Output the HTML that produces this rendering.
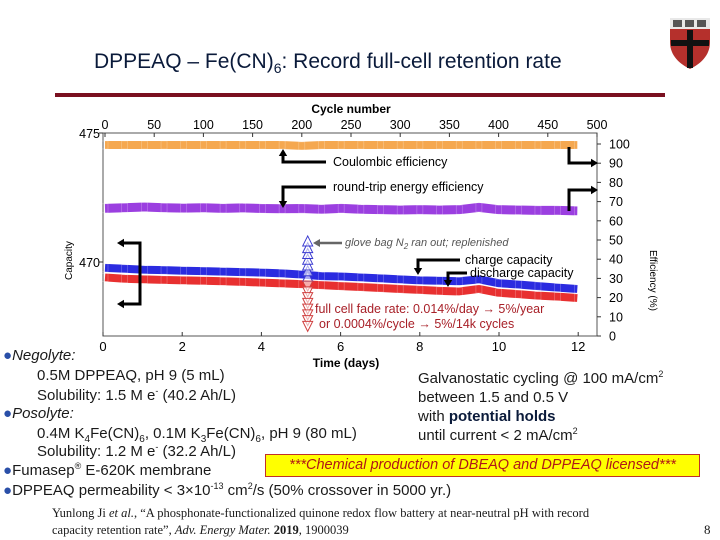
<!DOCTYPE html>
<html><head><meta charset="utf-8">
<style>
body{margin:0;width:720px;height:540px;background:#fff;overflow:hidden;font-family:"Liberation Sans",sans-serif;position:relative}
.t{position:absolute;white-space:nowrap;color:#1a1a1a}
.b{color:#2a4fa8}
sup,sub{line-height:0}
</style></head>
<body>
<div class="t" style="left:94px;top:50px;font-size:21px;color:#0a1a3a">DPPEAQ – Fe(CN)<sub style="font-size:14px">6</sub>: Record full-cell retention rate</div>
<div style="position:absolute;left:55px;top:93px;width:610px;height:4px;background:#7a1020"></div>
<svg style="position:absolute;left:668px;top:16px" width="44" height="54" viewBox="0 0 44 54">
<path d="M2 2H42V26C42 40 32 48 22 53C12 48 2 40 2 26Z" fill="#b5302c"/>
<rect x="2" y="2" width="40" height="11" fill="#e8e8e8"/>
<rect x="5" y="4" width="9" height="7" fill="#555"/><rect x="17" y="4" width="9" height="7" fill="#555"/><rect x="29" y="4" width="9" height="7" fill="#555"/>
<rect x="19" y="14" width="6" height="38" fill="#111"/><rect x="3" y="24" width="38" height="6" fill="#111"/>
</svg>

<svg id="chart" style="position:absolute;left:0;top:0" width="720" height="540"></svg>

<div class="t" style="left:3px;top:347px;font-size:15px"><span class="b">●</span><i>Negolyte:</i></div>
<div class="t" style="left:37px;top:367px;font-size:15px">0.5M DPPEAQ, pH 9 (5 mL)</div>
<div class="t" style="left:37px;top:387px;font-size:15px">Solubility: 1.5 M e<sup style="font-size:9px">-</sup> (40.2 Ah/L)</div>
<div class="t" style="left:3px;top:405px;font-size:15px"><span class="b">●</span><i>Posolyte:</i></div>
<div class="t" style="left:37px;top:425px;font-size:15px">0.4M K<sub style="font-size:10px">4</sub>Fe(CN)<sub style="font-size:10px">6</sub>, 0.1M K<sub style="font-size:10px">3</sub>Fe(CN)<sub style="font-size:10px">6</sub>, pH 9 (80 mL)</div>
<div class="t" style="left:37px;top:443px;font-size:15px">Solubility: 1.2 M e<sup style="font-size:9px">-</sup> (32.2 Ah/L)</div>
<div class="t" style="left:3px;top:462px;font-size:15px"><span class="b">●</span>Fumasep<sup style="font-size:9px">®</sup> E-620K membrane</div>
<div class="t" style="left:3px;top:482px;font-size:15px"><span class="b">●</span>DPPEAQ permeability &lt; 3×10<sup style="font-size:9px">-13</sup> cm<sup style="font-size:9px">2</sup>/s (50% crossover in 5000 yr.)</div>
<div class="t" style="left:418px;top:369px;font-size:15px;line-height:19px">Galvanostatic cycling @ 100 mA/cm<sup style="font-size:9px">2</sup><br>between 1.5 and 0.5 V<br>with <b style="color:#0a1a3a">potential holds</b><br>until current &lt; 2 mA/cm<sup style="font-size:9px">2</sup></div>
<div class="t" style="left:265px;top:454px;width:433px;height:21px;background:#ffff00;border:1px solid #c0302a;color:#b01818;font-size:14.5px;font-style:italic;text-align:center;line-height:21px">***Chemical production of DBEAQ and DPPEAQ licensed***</div>
<div class="t" style="left:52px;top:505px;font-size:12.5px;font-family:'Liberation Serif',serif;line-height:17px">Yunlong Ji <i>et al.</i>, “A phosphonate-functionalized quinone redox flow battery at near-neutral pH with record<br>capacity retention rate”, <i>Adv. Energy Mater.</i> <b>2019</b>, 1900039</div>
<div class="t" style="left:704px;top:522px;font-size:13px;font-family:'Liberation Serif',serif">8</div>

<script>
const cycles    = [0,20,40,60,80,100,120,140,160,180,200,220,240,260,280,300,320,340,360,380,400,420,440,460,480];
const ceVals    = [99.5,99.5,99.5,99.5,99.5,99.5,99.5,99.5,99.5,99.5,99.0,99.5,99.5,99.5,99.5,99.5,99.5,99.5,99.5,99.5,99.5,99.5,99.5,99.5,99.5];
const eeVals    = [66.5,66.8,67.2,66.8,66.6,66.8,66.5,66.7,66.4,66.3,66.4,66.0,66.5,66.0,65.8,65.6,65.8,65.6,65.8,67.0,65.8,65.6,65.4,65.4,65.2];
const chargeVals= [35.5,35.0,34.5,34.3,34.0,33.8,33.5,33.3,33.0,32.6,32.0,31.2,31.0,30.5,30.0,29.5,29.0,28.8,28.5,29.5,27.5,26.8,26.0,25.2,24.5];
const dischVals = [30.5,29.8,29.5,29.2,29.0,28.8,28.5,28.2,27.8,27.4,27.0,26.5,26.0,25.5,25.0,24.5,24.0,23.5,23.2,24.5,22.5,21.8,21.0,20.5,19.8];
const spikeCycle = 206;
const spikeCharge = [31,34,37,40,43,46,49.5];
const spikeDisch  = [26,23,20,17,14,11,8,5];
const timeTicks  = [0,2,4,6,8,10,12];
const cycleTicks = [0,50,100,150,200,250,300,350,400,450,500];
const pctTicks   = [0,10,20,30,40,50,60,70,80,90,100];

const NS="http://www.w3.org/2000/svg", svg=document.getElementById('chart');
const X0=103,X1=597,Y0=133,Y1=336;
const xc=c=>105+c/500*492;
const xt=d=>103+d*39.6;
const yp=p=>336-p*1.92;
function mk(tag,a,parent){const e=document.createElementNS(NS,tag);for(const k in a)e.setAttribute(k,a[k]);(parent||svg).appendChild(e);return e;}
function txt(x,y,s,a){const e=mk('text',Object.assign({x:x,y:y,'font-family':'Liberation Sans, sans-serif','font-size':12,fill:'#000'},a||{}));e.textContent=s;return e;}

const frame=mk('rect',{x:X0,y:Y0,width:X1-X0,height:Y1-Y0,fill:'none',stroke:'#555','stroke-width':1});



timeTicks.forEach(d=>{const x=xt(d);mk('line',{x1:x,x2:x,y1:Y1,y2:Y1-4,stroke:'#333'});
 const l=txt(x,351,String(d),{'text-anchor':'middle','font-size':13});
 
 });
cycleTicks.forEach(c=>{const x=xc(c);if(x<=X1)mk('line',{x1:x,x2:x,y1:Y0,y2:Y0+4,stroke:'#333'});
 const l=txt(x,129,String(c),{'text-anchor':'middle','font-size':12.5});
 
 });
pctTicks.forEach(p=>{const y=yp(p);mk('line',{x1:X1,x2:X1+4,y1:y,y2:y,stroke:'#333'});
 const l=txt(609,y+4.5,String(p),{'font-size':12.5});
 
 });
[[475,133],[470,262]].forEach(([v,y])=>{mk('line',{x1:X0,x2:X0-4,y1:y,y2:y,stroke:'#333'});
 const l=txt(100,y+5,String(v),{'text-anchor':'end','font-size':12.5});
 
 });

const xt1=txt(346,367,'Time (days)',{'text-anchor':'middle','font-size':12,'font-weight':'bold'});


const xt2=txt(351,113,'Cycle number',{'text-anchor':'middle','font-size':12,'font-weight':'bold'});


const yl=txt(0,0,'Capacity',{'font-size':10,transform:'translate(72,280) rotate(-90)'});


const yr=txt(0,0,'Efficiency (%)',{'font-size':10,transform:'translate(650,250) rotate(90)'});



function band(vals,color,w,name){
 const pts=cycles.map((c,i)=>xc(c)+','+yp(vals[i])).join(' ');
 const p=mk('polyline',{points:pts,fill:'none',stroke:color,'stroke-width':w,'stroke-linejoin':'round'});
 
 
 cycles.forEach((c,i)=>{const m=mk('rect',{x:xc(c)-3,y:yp(vals[i])-w/2,width:6,height:w,fill:'none',stroke:'rgba(255,255,255,0.35)','stroke-width':0.6});
  
  });
}
band(ceVals,'#f5a850',8,'coulombic-efficiency-series');
band(eeVals,'#9b3fe0',9,'energy-efficiency-series');
band(chargeVals,'#2b2be0',8,'charge-capacity-series');
band(dischVals,'#e83030',8,'discharge-capacity-series');

function tri(x,y,up,color,name){const h=5;
 const pts=up?`${x},${y-h} ${x-5},${y+h} ${x+5},${y+h}`:`${x},${y+h} ${x-5},${y-h} ${x+5},${y-h}`;
 const t=mk('polygon',{points:pts,fill:'#fff','fill-opacity':0.6,stroke:color,'stroke-width':1});
 
 }
spikeCharge.forEach(v=>tri(xc(spikeCycle),yp(v),true,'#3a3ad0','charge-spike-point'));
spikeDisch.forEach(v=>tri(xc(spikeCycle),yp(v),false,'#d04040','discharge-spike-point'));

function arrow(pts,name){
 const p=mk('polyline',{points:pts.map(q=>q.join(',')).join(' '),fill:'none',stroke:'#000','stroke-width':3});
 
 
 const [a,b]=[pts[pts.length-2],pts[pts.length-1]];
 const ang=Math.atan2(b[1]-a[1],b[0]-a[0]);
 const s=7,c=Math.cos(ang),n=Math.sin(ang);
 const tip=[b[0]+c*3,b[1]+n*3];
 const h=mk('polygon',{points:`${tip[0]},${tip[1]} ${tip[0]-s*c+s*0.6*n},${tip[1]-s*n-s*0.6*c} ${tip[0]-s*c-s*0.6*n},${tip[1]-s*n+s*0.6*c}`,fill:'#000'});
 
 
}
arrow([[326,162],[283,162],[283,152]],'ce-arrow-left');
arrow([[326,187],[283,187],[283,205]],'ee-arrow-left');
arrow([[569,147],[569,163],[595,163]],'ce-arrow-right');
arrow([[569,211],[569,190],[595,190]],'ee-arrow-right');
arrow([[140,304],[140,243],[120,243]],'charge-arrow-left');
arrow([[140,280],[140,304],[120,304]],'discharge-arrow-left');
arrow([[460,260],[418,260],[418,272]],'charge-arrow');
arrow([[467,273],[448,273],[448,284]],'discharge-arrow');
const ga=mk('line',{x1:342,x2:318,y1:243,y2:243,stroke:'#666','stroke-width':2.5});


mk('polygon',{points:'313,243 320,239 320,247',fill:'#666'});

[['Coulombic efficiency',333,166,'ce-label'],['round-trip energy efficiency',333,191,'ee-label'],['charge capacity',465,264,'charge-label'],['discharge capacity',470,277,'discharge-label']].forEach(([s,x,y,n])=>{
 const l=txt(x,y,s,{'font-size':12.5});
 
 });
const g=txt(345,246,'',{'font-size':11,'font-style':'italic',fill:'#555'});
g.innerHTML='glove bag N<tspan font-size="8" dy="3">2</tspan><tspan dy="-3"> ran out; replenished</tspan>';


const f1=txt(315,313,'full cell fade rate: 0.014%/day \u2192 5%/year',{'font-size':12.5,fill:'#a82028'});


const f2=txt(319,328,'or 0.0004%/cycle \u2192 5%/14k cycles',{'font-size':12.5,fill:'#a82028'});


</script>
</body></html>
